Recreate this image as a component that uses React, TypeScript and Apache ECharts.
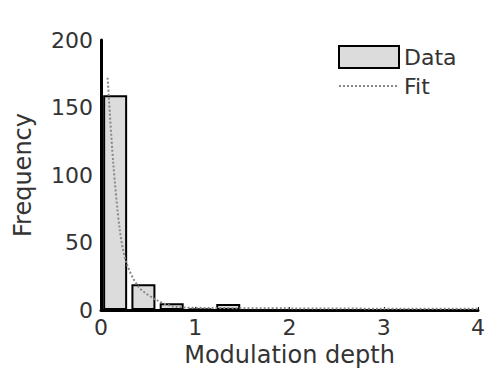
import React, { useEffect, useRef } from "react";
import * as echarts from "echarts";

const binCenters = [0.15, 0.45, 0.75, 1.05, 1.35];
const binCounts = [159, 19, 5, 1, 4.5];
const fitX = [0.07, 0.13, 0.2, 0.27, 0.4, 0.59, 0.8, 1.2, 2, 3, 4];
const fitY = [172, 109, 59, 35, 17, 7.4, 2.2, 1.5, 1.2, 1, 1];
const xTicks = [0, 1, 2, 3, 4];
const yTicks = [0, 50, 100, 150, 200];

export default function App() {
  const ref = useRef<HTMLDivElement>(null);
  useEffect(() => {
    if (!ref.current) return;
    const chart = echarts.init(ref.current, null, { renderer: "svg" });
    const font = "DejaVu Sans";
    const txt = "#333";
    chart.setOption({
      animation: false,
      textStyle: { fontFamily: font },
      grid: { left: 101, right: 11, top: 40, bottom: 69 },
      legend: {
        orient: "vertical",
        left: 333,
        top: 40,
        itemWidth: 60,
        itemHeight: 22,
        itemGap: 6,
        textStyle: { fontFamily: font, fontSize: 22, color: txt },
        data: [
          { name: "Data", icon: "rect" },
          { name: "Fit", itemStyle: { opacity: 0 } },
        ],
      },
      xAxis: {
        type: "value",
        min: xTicks[0],
        max: xTicks[xTicks.length - 1],
        interval: 1,
        name: "Modulation depth",
        nameLocation: "middle",
        nameGap: 27,
        nameTextStyle: { fontSize: 24, color: txt, fontFamily: font },
        axisLine: { lineStyle: { color: "#000", width: 3 } },
        axisTick: { inside: true, length: 3, lineStyle: { color: "#000" } },
        axisLabel: { fontSize: 22, color: txt, fontFamily: font, margin: 6 },
        splitLine: { show: false },
      },
      yAxis: {
        type: "value",
        min: yTicks[0],
        max: yTicks[yTicks.length - 1],
        interval: 50,
        name: "Frequency",
        nameLocation: "middle",
        nameGap: 66,
        nameRotate: 90,
        nameTextStyle: { fontSize: 24, color: txt, fontFamily: font },
        axisLine: { show: true, lineStyle: { color: "#000", width: 3 } },
        axisTick: { show: false },
        axisLabel: { fontSize: 22, color: txt, fontFamily: font, margin: 8 },
        splitLine: { show: false },
      },
      series: [
        {
          name: "Data",
          type: "bar",
          barWidth: 24,
          data: binCenters.map((c, i) => [c, binCounts[i]]),
          itemStyle: { color: "#dcdcdc", borderColor: "#000", borderWidth: 2 },
        },
        {
          name: "Fit",
          type: "line",
          smooth: 0.3,
          symbol: "none",
          data: fitX.map((x, i) => [x, fitY[i]]),
          lineStyle: { color: "#888", width: 2, type: "dotted" },
          itemStyle: { color: "#888" },
        },
      ],
    });
    return () => chart.dispose();
  }, []);
  return <div ref={ref} style={{ width: 489, height: 379, position: "absolute", left: 0, top: 0 }} />;
}
